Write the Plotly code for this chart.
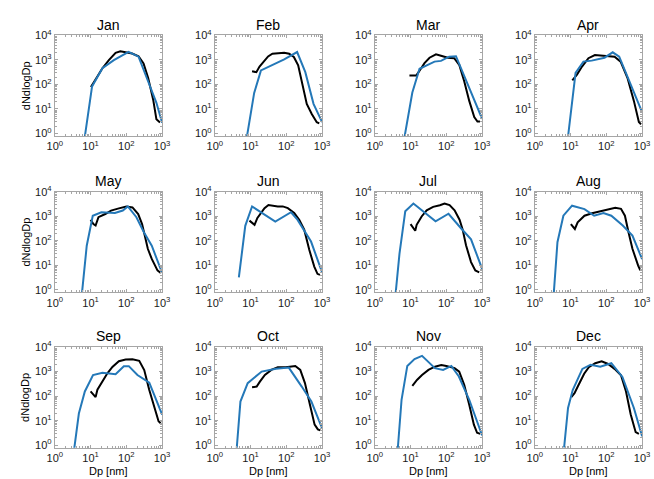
import plotly.graph_objects as go

months = ["Jan", "Feb", "Mar", "Apr", "May", "Jun", "Jul", "Aug", "Sep", "Oct", "Nov", "Dec"]

x_tick_vals = [1, 10, 100, 1000]
x_tick_text = ["10<sup>0</sup>", "10<sup>1</sup>", "10<sup>2</sup>", "10<sup>3</sup>"]
y_tick_vals = [1, 10, 100, 1000, 10000]
y_tick_text = ["10<sup>0</sup>", "10<sup>1</sup>", "10<sup>2</sup>", "10<sup>3</sup>", "10<sup>4</sup>"]
x_label = "Dp [nm]"
y_label = "dNdlogDp"

# Measured (black) and modelled (blue) size distributions, per month
jan_obs_dp = [10.2, 14.1, 21.4, 32.4, 50, 68, 93, 145, 219, 302, 407, 562, 692, 871]
jan_obs_n = [78, 178, 457, 977, 1950, 2240, 2100, 1820, 1410, 724, 182, 24, 3.8, 2.8]
jan_mod_dp = [6.9, 11, 21.4, 44.7, 115, 219, 407, 692, 1000]
jan_mod_n = [0.75, 83, 457, 977, 2140, 1350, 132, 17.8, 2.75]

feb_obs_dp = [11, 14.5, 17.8, 22.9, 30.9, 40.7, 64.6, 87, 120, 162, 214, 275, 372, 513, 708, 832]
feb_obs_n = [347, 316, 537, 813, 1380, 1780, 1950, 1950, 1780, 1320, 603, 126, 16.2, 6.3, 2.9, 2.6]
feb_mod_dp = [7.9, 12.6, 19.5, 57.5, 87, 200, 339, 575, 1000]
feb_mod_n = [0.75, 45, 372, 813, 1050, 2090, 316, 16.2, 2.9]

mar_obs_dp = [9.3, 14.5, 17.8, 24.5, 33.9, 51.3, 70.8, 110, 166, 229, 316, 437, 603, 741, 871]
mar_obs_n = [234, 234, 363, 741, 1230, 1700, 1480, 1230, 1175, 631, 135, 21.4, 4.7, 3.1, 3.1]
mar_mod_dp = [6.8, 11.2, 17.8, 46.8, 70.8, 120, 186, 1000]
mar_mod_n = [0.75, 47, 437, 851, 912, 1350, 1410, 4]

apr_obs_dp = [11.2, 15.1, 20.9, 31.6, 47.9, 89, 170, 251, 389, 589, 813, 933]
apr_obs_n = [145, 251, 537, 1175, 1585, 1480, 1350, 851, 186, 21.4, 2.95, 2.35]
apr_mod_dp = [8.5, 13.8, 22.9, 38.9, 89, 151, 229, 437, 1000]
apr_mod_n = [0.75, 295, 851, 933, 1230, 2040, 1350, 135, 7.4]

may_obs_dp = [10, 12, 13.8, 16.6, 25.7, 37.2, 61.7, 100, 148, 214, 275, 398, 513, 741, 912]
may_obs_n = [724, 479, 417, 912, 1230, 1700, 2090, 2510, 2290, 1230, 479, 47, 18.2, 6.2, 4.9]
may_mod_dp = [5.75, 7.8, 11.5, 20, 47.9, 79.4, 110, 191, 309, 513, 1000]
may_mod_n = [0.75, 63, 1050, 1450, 1350, 1700, 2510, 912, 224, 63, 4.9]

jun_obs_dp = [9.3, 11.5, 12.9, 15.5, 20, 24.5, 31.6, 41.7, 57.5, 79.4, 110, 166, 229, 316, 437, 603, 741, 871]
jun_obs_n = [661, 490, 447, 851, 1350, 2140, 2880, 2690, 2510, 2510, 2140, 1350, 724, 282, 42.7, 8.9, 4.5, 4.1]
jun_mod_dp = [4.7, 7.1, 11, 49, 135, 204, 490, 1000]
jun_mod_n = [3.2, 407, 2510, 603, 1450, 724, 93, 5.1]

jul_obs_dp = [10, 12, 13.5, 14.8, 20.4, 28.2, 42.7, 66, 89, 123, 170, 234, 288, 355, 490, 646, 832]
jul_obs_n = [479, 324, 257, 447, 977, 1740, 2400, 2820, 3310, 2820, 1740, 724, 275, 66, 13.5, 6.2, 5.2]
jul_mod_dp = [3.8, 4.9, 7.1, 12, 50, 115, 257, 490, 1000]
jul_mod_n = [0.66, 30, 1580, 3310, 617, 1260, 324, 115, 7.2]

aug_obs_dp = [10.2, 13.2, 15.8, 24.5, 39.8, 83, 178, 257, 331, 417, 537, 776, 891]
aug_obs_n = [479, 302, 562, 1050, 1320, 1700, 2190, 2000, 1050, 224, 47, 9.8, 6.2]
aug_mod_dp = [3.4, 4.3, 6.3, 11, 24.5, 45.7, 83, 138, 288, 537, 1000]
aug_mod_n = [0.75, 87, 1050, 2690, 1950, 1050, 1350, 1050, 417, 162, 18]

sep_obs_dp = [10, 12.3, 13.8, 15.5, 21.4, 29.5, 40.7, 61.7, 95.5, 148, 229, 316, 437, 603, 794, 912]
sep_obs_n = [155, 112, 91, 182, 389, 851, 1550, 2630, 3090, 3160, 2750, 1150, 178, 38, 9.5, 7.8]
sep_mod_dp = [3.5, 4.7, 6.9, 11.7, 21.4, 50, 85, 117, 204, 437, 1000]
sep_mod_n = [0.75, 19.5, 155, 724, 891, 776, 1660, 1660, 724, 355, 17.8]

oct_obs_dp = [11, 14.8, 18.2, 25.1, 38, 57.5, 95.5, 145, 178, 245, 331, 457, 617, 759, 891]
oct_obs_n = [229, 245, 389, 724, 1175, 1510, 1510, 1580, 1700, 1175, 339, 44.7, 6.9, 4.4, 4]
oct_mod_dp = [4.1, 5.2, 8.3, 20.4, 51.3, 117, 269, 501, 1000]
oct_mod_n = [0.75, 60, 339, 1000, 1290, 1450, 245, 60, 4.8]

nov_obs_dp = [11.2, 15.1, 20.9, 31.6, 47.9, 72.4, 100, 170, 229, 316, 437, 589, 724, 891]
nov_obs_n = [263, 457, 724, 1175, 1585, 1860, 1700, 1380, 1000, 288, 44.7, 6.9, 3.2, 2.9]
nov_mod_dp = [4.4, 5.6, 8.1, 12.9, 20.9, 47.9, 81.3, 138, 224, 437, 1000]
nov_mod_n = [0.75, 71, 1700, 3240, 4370, 1380, 1175, 1700, 631, 71, 2.5]

dec_obs_dp = [10.5, 12.9, 15.8, 19.5, 24, 32.4, 49, 74.1, 112, 170, 257, 355, 479, 661, 813]
dec_obs_n = [91, 132, 240, 447, 813, 1510, 2190, 2630, 2040, 1290, 708, 155, 18.2, 3.4, 2.9]
dec_mod_dp = [6.6, 8.5, 11.5, 21.4, 36.3, 67.6, 138, 282, 589, 1000]
dec_mod_n = [0.8, 33, 178, 1290, 1900, 1580, 2190, 603, 33, 2.3]

obs_dp = [jan_obs_dp, feb_obs_dp, mar_obs_dp, apr_obs_dp, may_obs_dp, jun_obs_dp,
          jul_obs_dp, aug_obs_dp, sep_obs_dp, oct_obs_dp, nov_obs_dp, dec_obs_dp]
obs_n = [jan_obs_n, feb_obs_n, mar_obs_n, apr_obs_n, may_obs_n, jun_obs_n,
         jul_obs_n, aug_obs_n, sep_obs_n, oct_obs_n, nov_obs_n, dec_obs_n]
mod_dp = [jan_mod_dp, feb_mod_dp, mar_mod_dp, apr_mod_dp, may_mod_dp, jun_mod_dp,
          jul_mod_dp, aug_mod_dp, sep_mod_dp, oct_mod_dp, nov_mod_dp, dec_mod_dp]
mod_n = [jan_mod_n, feb_mod_n, mar_mod_n, apr_mod_n, may_mod_n, jun_mod_n,
         jul_mod_n, aug_mod_n, sep_mod_n, oct_mod_n, nov_mod_n, dec_mod_n]

W, H = 654, 479
col_left = [48, 212, 376, 540]
row_top = [28, 188, 347]
pw, ph = 110, 103

FONT = "Liberation Sans, Arial, Helvetica, sans-serif"
BOX = "#a6a6a6"
BLUE = "#2478b8"

x_minor = [m * d for d in (1, 10, 100) for m in range(2, 10)]
y_minor = [m * d for d in (1, 10, 100, 1000) for m in range(2, 10)]

fig = go.Figure()
layout = dict(
    width=W, height=H, margin=dict(l=0, r=0, t=0, b=0),
    paper_bgcolor="white", plot_bgcolor="white", showlegend=False,
    font=dict(family=FONT, size=11, color="#1a1a1a"),
)
annotations = []

for i, m in enumerate(months):
    r, c = divmod(i, 4)
    k = "" if i == 0 else str(i + 1)
    xa, ya = "x" + k, "y" + k
    x0 = col_left[c] / W
    x1 = (col_left[c] + pw) / W
    y1 = 1 - row_top[r] / H
    y0 = 1 - (row_top[r] + ph) / H
    common = dict(
        showline=True, linecolor=BOX, linewidth=1, mirror="allticks",
        ticks="inside", ticklen=3, tickcolor=BOX, tickwidth=1,
        showgrid=False, zeroline=False, tickmode="array",
        tickfont=dict(family=FONT, size=11, color="#1a1a1a"),
    )
    layout["xaxis" + k] = dict(
        common, type="log", range=[0, 3], domain=[x0, x1], anchor=ya,
        tickvals=x_tick_vals, ticktext=x_tick_text,
        minor=dict(tickmode="array", tickvals=x_minor, ticks="inside",
                   ticklen=2, tickcolor=BOX, showgrid=False),
    )
    layout["yaxis" + k] = dict(
        common, type="log", range=[-0.1, 4], domain=[y0, y1], anchor=xa,
        tickvals=y_tick_vals, ticktext=y_tick_text,
        minor=dict(tickmode="array", tickvals=y_minor, ticks="inside",
                   ticklen=2, tickcolor=BOX, showgrid=False),
    )
    fig.add_trace(go.Scatter(x=obs_dp[i], y=obs_n[i], mode="lines",
                             line=dict(color="black", width=2),
                             xaxis=xa, yaxis=ya))
    fig.add_trace(go.Scatter(x=mod_dp[i], y=mod_n[i], mode="lines",
                             line=dict(color=BLUE, width=2),
                             xaxis=xa, yaxis=ya))
    annotations.append(dict(
        text=m, x=(col_left[c] + pw / 2) / W, y=1 - (row_top[r] - 11) / H,
        xref="paper", yref="paper", showarrow=False, xanchor="center",
        yanchor="middle", font=dict(family=FONT, size=14, color="black"),
    ))
    if c == 0:
        annotations.append(dict(
            text=y_label, x=18 / W, y=1 - (row_top[r] + ph / 2) / H,
            xref="paper", yref="paper", showarrow=False, textangle=-90,
            xanchor="center", yanchor="middle",
            font=dict(family=FONT, size=11, color="black"),
        ))
    if r == 2:
        annotations.append(dict(
            text=x_label, x=(col_left[c] + pw / 2) / W, y=1 - 474 / H,
            xref="paper", yref="paper", showarrow=False,
            xanchor="center", yanchor="middle",
            font=dict(family=FONT, size=11, color="black"),
        ))

layout["annotations"] = annotations
fig.update_layout(**layout)
fig.write_html(
    "out.html",
    config={"displayModeBar": False},
    post_script="document.body.style.margin='0';document.body.style.overflow='hidden';",
)
